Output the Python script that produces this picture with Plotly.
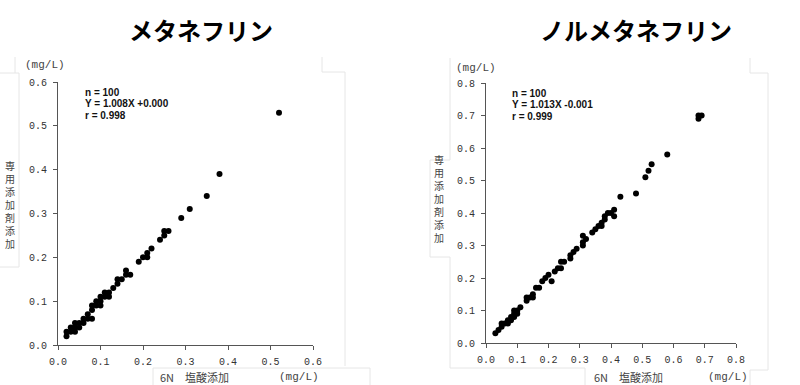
import plotly.graph_objects as go

# ---------------- data ----------------
title_left = "メタネフリン"
title_right = "ノルメタネフリン"

x_left = [0.02, 0.02, 0.03, 0.03, 0.04, 0.04, 0.04, 0.05, 0.05, 0.06, 0.06, 0.07, 0.07,
          0.08, 0.08, 0.08, 0.09, 0.09, 0.10, 0.10, 0.10, 0.11, 0.11, 0.12, 0.12, 0.13,
          0.14, 0.14, 0.15, 0.16, 0.16, 0.17, 0.19, 0.20, 0.21, 0.21, 0.22, 0.24, 0.25,
          0.25, 0.26, 0.29, 0.31, 0.35, 0.38, 0.52]
y_left = [0.02, 0.03, 0.03, 0.04, 0.03, 0.04, 0.05, 0.04, 0.05, 0.05, 0.06, 0.06, 0.07,
          0.06, 0.08, 0.09, 0.09, 0.10, 0.09, 0.10, 0.11, 0.11, 0.12, 0.11, 0.12, 0.13,
          0.14, 0.15, 0.15, 0.16, 0.17, 0.16, 0.19, 0.20, 0.20, 0.21, 0.22, 0.24, 0.25,
          0.26, 0.26, 0.29, 0.31, 0.34, 0.39, 0.53]

x_right = [0.03, 0.04, 0.05, 0.05, 0.06, 0.07, 0.07, 0.08, 0.08, 0.09, 0.09, 0.09, 0.10,
           0.10, 0.11, 0.13, 0.13, 0.14, 0.15, 0.15, 0.16, 0.17, 0.18, 0.19, 0.20, 0.21,
           0.22, 0.23, 0.24, 0.24, 0.25, 0.27, 0.27, 0.28, 0.29, 0.31, 0.31, 0.31, 0.32,
           0.34, 0.35, 0.36, 0.37, 0.37, 0.38, 0.38, 0.39, 0.40, 0.41, 0.41, 0.43, 0.48,
           0.51, 0.52, 0.53, 0.58, 0.68, 0.68, 0.69]
y_right = [0.03, 0.04, 0.05, 0.06, 0.06, 0.06, 0.07, 0.07, 0.08, 0.08, 0.09, 0.10, 0.10,
           0.09, 0.11, 0.13, 0.14, 0.14, 0.14, 0.15, 0.17, 0.17, 0.19, 0.20, 0.21, 0.19,
           0.22, 0.23, 0.23, 0.25, 0.25, 0.26, 0.27, 0.28, 0.29, 0.30, 0.31, 0.33, 0.32,
           0.34, 0.35, 0.36, 0.37, 0.36, 0.38, 0.39, 0.40, 0.40, 0.41, 0.39, 0.45, 0.46,
           0.51, 0.53, 0.55, 0.58, 0.69, 0.70, 0.70]

stats_left = ["n = 100", "Y = 1.008X +0.000", "r = 0.998"]
stats_right = ["n = 100", "Y = 1.013X -0.001", "r = 0.999"]

ticks_left = [0.0, 0.1, 0.2, 0.3, 0.4, 0.5, 0.6]
ticks_right = [0.0, 0.1, 0.2, 0.3, 0.4, 0.5, 0.6, 0.7, 0.8]
tick_text_left = ["0.0", "0.1", "0.2", "0.3", "0.4", "0.5", "0.6"]
tick_text_right = ["0.0", "0.1", "0.2", "0.3", "0.4", "0.5", "0.6", "0.7", "0.8"]

y_title = "専用添加剤添加"
x_title = "6N　塩酸添加"
unit = "(mg/L)"

# ---------------- layout helpers ----------------
W, H = 800, 385


def px(x):
    return x / W


def py(y):
    return 1 - y / H


TICK_FONT = dict(family="Liberation Mono, DejaVu Sans Mono, monospace", size=10, color="#333333")
JP_FONT = "Noto Sans CJK JP, sans-serif"
AXIS_COLOR = "#555555"

fig = go.Figure()

fig.add_trace(go.Scatter(x=x_left, y=y_left, mode="markers", xaxis="x", yaxis="y",
                         marker=dict(color="black", size=6), showlegend=False))
fig.add_trace(go.Scatter(x=x_right, y=y_right, mode="markers", xaxis="x2", yaxis="y2",
                         marker=dict(color="black", size=6), showlegend=False))


def axis(domain, rng, tickvals, ticktext, anchor):
    return dict(domain=domain, range=rng, tickvals=tickvals, ticktext=ticktext,
                showgrid=False, zeroline=False, showline=True, linecolor=AXIS_COLOR,
                linewidth=1, ticks="outside", ticklen=4, tickcolor=AXIS_COLOR,
                tickfont=TICK_FONT, anchor=anchor, fixedrange=True, automargin=False)


fig.update_layout(
    width=W, height=H,
    margin=dict(l=0, r=0, t=0, b=0),
    paper_bgcolor="white", plot_bgcolor="white",
    xaxis=axis([px(58), px(313)], [0, 0.6], ticks_left, tick_text_left, "y"),
    yaxis=axis([py(345), py(82)], [0, 0.6], ticks_left, tick_text_left, "x"),
    xaxis2=axis([px(486), px(736)], [0, 0.8], ticks_right, tick_text_right, "y2"),
    yaxis2=axis([py(343), py(83)], [0, 0.8], ticks_right, tick_text_right, "x2"),
)
fig.update_yaxes(ticklabelstandoff=4)
fig.update_xaxes(ticklabelstandoff=3)

ann = []


def add_text(text, x, y, font, xanchor="center", yanchor="middle"):
    ann.append(dict(text=text, x=px(x), y=py(y), xref="paper", yref="paper",
                    showarrow=False, xanchor=xanchor, yanchor=yanchor, font=font))


# Titles
title_font = dict(family=JP_FONT, size=24, color="black", weight="bold")
add_text("<b>" + title_left + "</b>", 201, 29, title_font)
add_text("<b>" + title_right + "</b>", 636, 29, title_font)

# Stats
stat_font = dict(family="Liberation Sans, Arial, sans-serif", size=10, color="#111111")
for i, s in enumerate(stats_left):
    add_text("<b>" + s + "</b>", 83, 93 + i * 11, stat_font, xanchor="left")
for i, s in enumerate(stats_right):
    add_text("<b>" + s + "</b>", 510, 94 + i * 11, stat_font, xanchor="left")

# Units
unit_font = dict(family="Liberation Mono, monospace", size=11, color="#444444")
add_text(unit, 45, 65, unit_font)
add_text(unit, 476, 68, unit_font)
add_text(unit, 299, 377, unit_font)
add_text(unit, 728, 377, unit_font)

# X titles
xt_font = dict(family=JP_FONT, size=11, color="#444444")
add_text(x_title, 158, 377, xt_font, xanchor="left")
add_text(x_title, 592, 377, xt_font, xanchor="left")

# Vertical Y titles (upright characters, stacked)
yt_font = dict(family=JP_FONT, size=10, color="#444444")
add_text("<br>".join(y_title), 10, 205, yt_font)
add_text("<br>".join(y_title), 439, 199, yt_font)

fig.update_layout(annotations=ann)

# faint frame lines of the pasted image pieces (decoration)
frame_segments = [
    (15, 57, 15, 73), (0, 73, 19, 73), (19, 73, 19, 267), (0, 267, 19, 267),
    (322, 57, 322, 72), (322, 72, 345, 72), (345, 72, 345, 366),
    (153, 368, 370, 368), (153, 368, 153, 385), (370, 368, 370, 385),
    (450, 58, 450, 160), (430, 160, 450, 160), (430, 160, 430, 257), (430, 257, 450, 257),
    (450, 257, 450, 368), (450, 368, 585, 368), (585, 368, 585, 385),
    (750, 58, 750, 73), (750, 73, 768, 73), (768, 73, 768, 370), (750, 370, 768, 370),
    (750, 370, 750, 385),
]
fig.update_layout(shapes=[
    dict(type="line", xref="paper", yref="paper", x0=px(a), y0=py(b), x1=px(c), y1=py(d),
         line=dict(color="#e6e6e6", width=1), layer="below")
    for a, b, c, d in frame_segments
])

fig.write_html("out.html", post_script="document.body.style.margin='0';",
               config={"displayModeBar": False})
